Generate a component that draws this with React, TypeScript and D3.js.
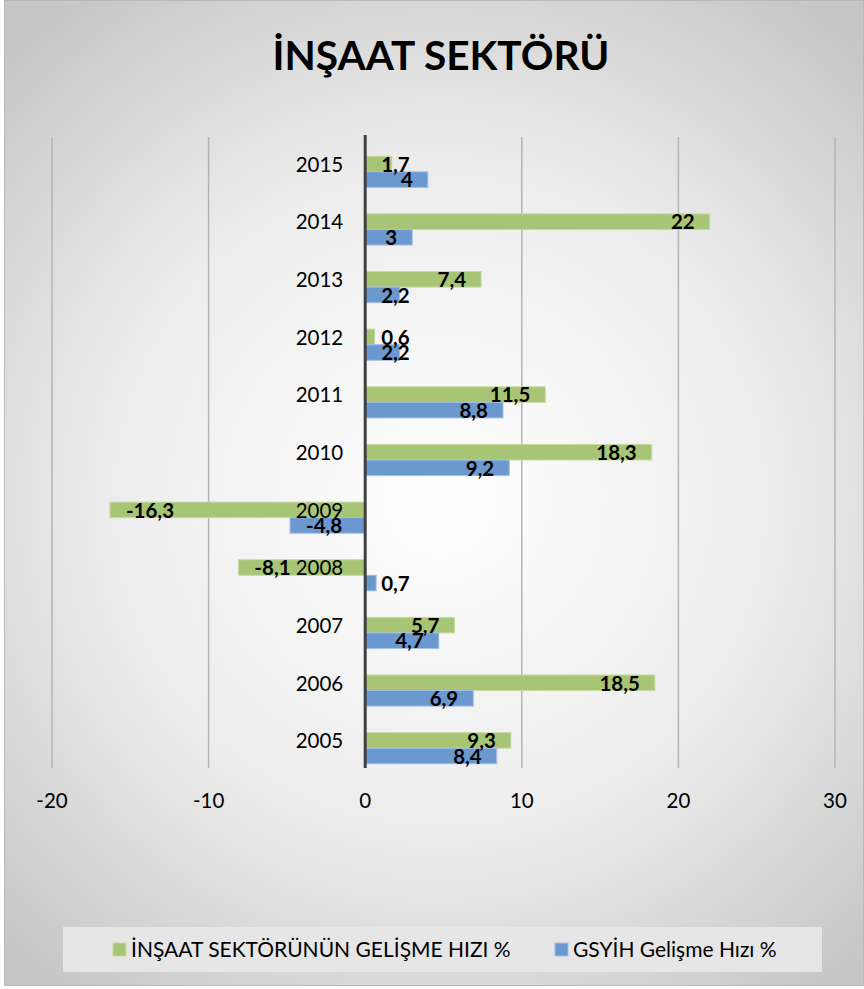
import React, { useEffect, useRef } from "react";
import * as d3 from "d3";

const years = ["2015", "2014", "2013", "2012", "2011", "2010", "2009", "2008", "2007", "2006", "2005"];
const insaat = [1.7, 22, 7.4, 0.6, 11.5, 18.3, -16.3, -8.1, 5.7, 18.5, 9.3];
const gsyih = [4, 3, 2.2, 2.2, 8.8, 9.2, -4.8, 0.7, 4.7, 6.9, 8.4];
const seriesNames = ["İNŞAAT SEKTÖRÜNÜN GELİŞME HIZI %", "GSYİH Gelişme Hızı %"];
const xTicks = [-20, -10, 0, 10, 20, 30];
const title = "İNŞAAT SEKTÖRÜ";

const W = 864;
const H = 989;
const FONT = "Lato, 'Open Sans', sans-serif";
const colors = ["#a7c574", "#6a98cf"];
const strokes = ["#c6dba4", "#a2bfe3"];

const fmt = (v: number) => String(v).replace(".", ",");

export default function App() {
  const ref = useRef<SVGSVGElement>(null);

  useEffect(() => {
    document.body.style.margin = "0";
    const svg = d3.select(ref.current);
    svg.selectAll("*").remove();

    const defs = svg.append("defs");
    const rg = defs
      .append("radialGradient")
      .attr("id", "bg")
      .attr("gradientUnits", "userSpaceOnUse")
      .attr("cx", 440)
      .attr("cy", 500)
      .attr("r", 620);
    rg.append("stop").attr("offset", 0).attr("stop-color", "#ffffff");
    rg.append("stop").attr("offset", 0.55).attr("stop-color", "#ececec");
    rg.append("stop").attr("offset", 1).attr("stop-color", "#c6c6c6");

    svg.append("rect").attr("width", W).attr("height", H).attr("fill", "#ffffff");
    svg
      .append("rect")
      .attr("x", 4.5)
      .attr("y", 0.5)
      .attr("width", W - 5)
      .attr("height", 985)
      .attr("fill", "url(#bg)")
      .attr("stroke", "#b8b8b8")
      .attr("stroke-width", 1);

    // title
    svg
      .append("text")
      .attr("x", 441)
      .attr("y", 70)
      .attr("text-anchor", "middle")
      .attr("font-family", FONT)
      .attr("font-weight", 700)
      .attr("font-size", 41)
      .attr("textLength", 337)
      .attr("lengthAdjust", "spacingAndGlyphs")
      .attr("fill", "#000")
      .text(title);

    const plotTop = 137;
    const plotBottom = 768;
    const x = d3.scaleLinear().domain([-20, 30]).range([52, 835]);
    const y = d3.scaleBand<string>().domain(years).range([143, 777]).paddingInner(0.46).paddingOuter(0.23);
    const sub = d3.scaleBand<number>().domain([0, 1]).range([0, y.bandwidth()]);

    // gridlines
    svg
      .append("g")
      .selectAll("line")
      .data(xTicks.filter((t) => t !== 0))
      .join("line")
      .attr("x1", (d) => x(d))
      .attr("x2", (d) => x(d))
      .attr("y1", plotTop)
      .attr("y2", plotBottom)
      .attr("stroke", "#b4b4b4")
      .attr("stroke-width", 1.5);

    // tick labels
    svg
      .append("g")
      .selectAll("text")
      .data(xTicks)
      .join("text")
      .attr("x", (d) => x(d))
      .attr("y", 808)
      .attr("text-anchor", "middle")
      .attr("font-family", FONT)
      .attr("font-size", 20.5)
      .attr("fill", "#000")
      .text((d) => String(d));

    const series = [insaat, gsyih];
    const x0 = x(0);

    series.forEach((vals, si) => {
      const g = svg.append("g");
      g.selectAll("rect")
        .data(vals)
        .join("rect")
        .attr("x", (d) => Math.min(x(d), x0))
        .attr("y", (_, i) => (y(years[i]) as number) + (sub(si) as number))
        .attr("width", (d) => Math.abs(x(d) - x0))
        .attr("height", sub.bandwidth())
        .attr("fill", colors[si])
        .attr("stroke", strokes[si])
        .attr("stroke-width", 1);
    });

    // axis line
    svg
      .append("line")
      .attr("x1", x0)
      .attr("x2", x0)
      .attr("y1", plotTop - 2)
      .attr("y2", plotBottom)
      .attr("stroke", "#404040")
      .attr("stroke-width", 3);

    // category labels
    svg
      .append("g")
      .selectAll("text")
      .data(years)
      .join("text")
      .attr("x", x0 - 22)
      .attr("y", (d) => (y(d) as number) + y.bandwidth() / 2)
      .attr("text-anchor", "end")
      .attr("font-family", FONT)
      .attr("font-size", 20.5)
      .attr("fill", "#000")
      .text((d) => d);

    // data labels
    series.forEach((vals, si) => {
      const g = svg.append("g");
      vals.forEach((v, i) => {
        const by = (y(years[i]) as number) + (sub(si) as number);
        const t = g
          .append("text")
          .attr("y", by + sub.bandwidth())
          .attr("font-family", FONT)
          .attr("font-weight", 700)
          .attr("font-size", 20.5)
          .attr("fill", "#000")
          .text(fmt(v));
        const node = t.node() as SVGTextElement;
        const w = node.getComputedTextLength();
        const end = x(v);
        if (v >= 0) {
          let start = end - 15 - w;
          if (start < x0 + 16) start = x0 + 16;
          t.attr("x", start);
        } else {
          t.attr("x", end + 16);
        }
      });
    });

    // legend
    const lg = svg.append("g");
    lg.append("rect")
      .attr("x", 63)
      .attr("y", 927)
      .attr("width", 759)
      .attr("height", 45)
      .attr("fill", "#e6e6e6");
    const legendX = [113, 555];
    seriesNames.forEach((name, si) => {
      lg.append("rect")
        .attr("x", legendX[si])
        .attr("y", 943)
        .attr("width", 13)
        .attr("height", 13)
        .attr("fill", colors[si])
        .attr("stroke", strokes[si])
        .attr("stroke-width", 1);
      lg.append("text")
        .attr("x", legendX[si] + 18)
        .attr("y", 957)
        .attr("font-family", FONT)
        .attr("font-size", 21)
        .attr("fill", "#000")
        .text(name);
    });
  }, []);

  return (
    <svg
      ref={ref}
      width={W}
      height={H}
      style={{ display: "block", position: "absolute", left: 0, top: 0 }}
    />
  );
}
